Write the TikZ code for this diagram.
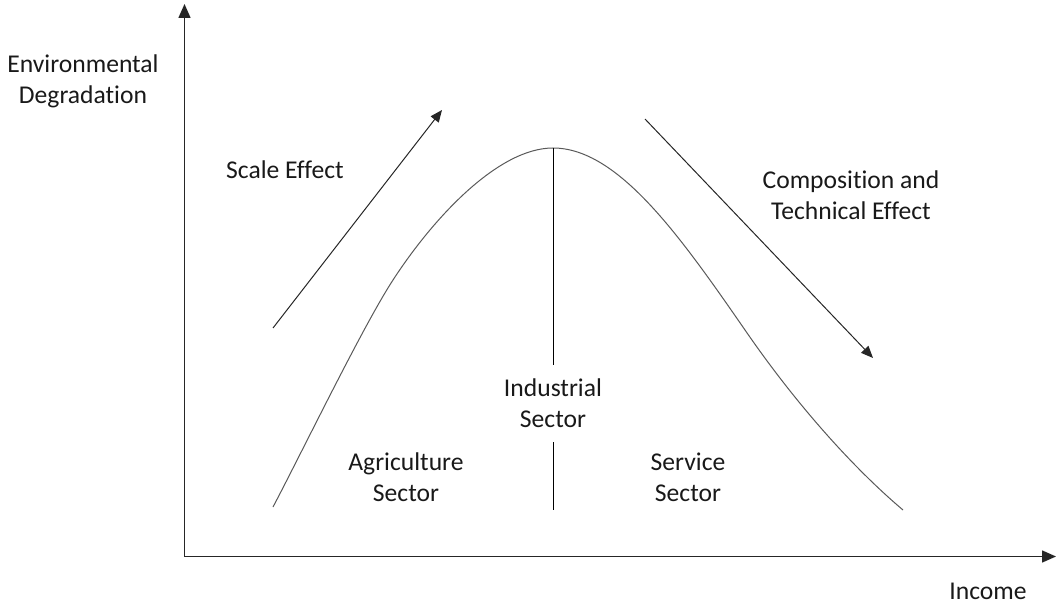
\documentclass[tikz,border=0pt]{standalone}
\usepackage{fontspec}
\setmainfont{Carlito}[Ligatures={NoCommon}]
\usetikzlibrary{arrows.meta}
\begin{document}
\begin{tikzpicture}[x=0.75pt,y=-0.75pt,
  axis/.style={line width=1.1pt,draw=black!85,-{Triangle[length=10.5pt,width=9pt]}},
  effect/.style={line width=0.75pt,draw=black!85,-{Triangle[length=9pt,width=7.5pt]}},
  lbl/.style={font=\fontsize{19.2}{23.5}\selectfont,align=center,inner sep=0pt,text=black!90}]
\useasboundingbox (0,0) rectangle (1056,606);

% axes
\coordinate (O) at (184.5,556.5);
\coordinate (ytip) at (184.5,4);
\coordinate (xtip) at (1056,556.5);
\draw[axis] (O) -- (ytip);
\draw[axis] (O) -- (xtip);

% axis labels
\node[lbl] (ylab) at (83,81) {Environmental\\Degradation};
\node[lbl,align=none] (xlab) at (988,591) {Income};

% the inverted-U curve
\coordinate (cL) at (273,507);
\coordinate (cM) at (393,280);
\coordinate (peak) at (553,148);
\coordinate (cN) at (745,330);
\coordinate (cR) at (903,510);
\draw[line width=0.75pt,draw=black!65]
  (cL) .. controls (303,450) and (363,326) .. (cM)
       .. controls (433,218.4) and (498,148) .. (peak)
       .. controls (618,148) and (680,236) .. (cN)
       .. controls (800,410) and (858,472) .. (cR);

% divider through the peak
\coordinate (divA) at (553,365);
\coordinate (divB) at (553,442);
\coordinate (divC) at (553,510);
\draw[line width=0.75pt] (peak) -- (divA);
\draw[line width=0.75pt] (divB) -- (divC);

% effect arrows
\coordinate (s0) at (273,328);
\coordinate (s1) at (442,110);
\coordinate (c0) at (645,119);
\coordinate (c1) at (873,358);
\draw[effect] (s0) -- (s1);
\draw[effect] (c0) -- (c1);

% labels
\node[lbl] (scale) at (285,170) {Scale Effect};
\node[lbl] (comp) at (851,195) {Composition and\\Technical Effect};
\node[lbl] (ind) at (553,403) {Industrial\\Sector};
\node[lbl] (agr) at (406,477) {Agriculture\\Sector};
\node[lbl] (serv) at (688,477) {Service\\Sector};
\end{tikzpicture}
\end{document}
